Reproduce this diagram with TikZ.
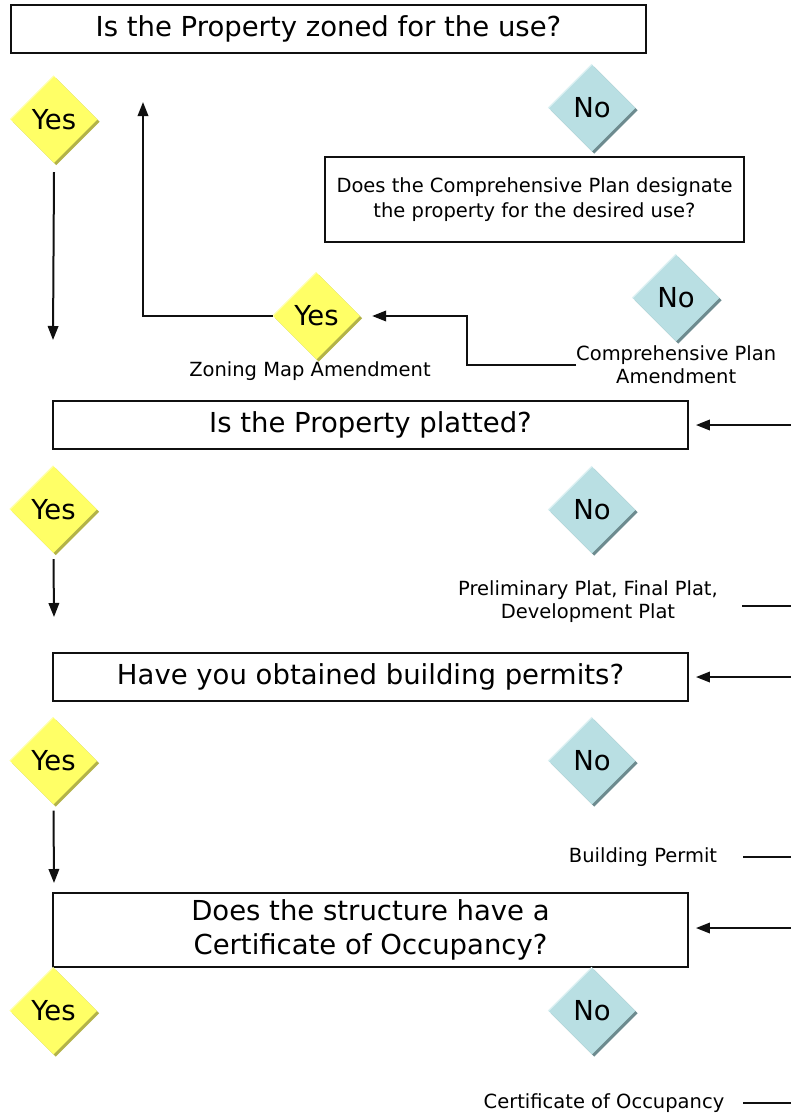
\documentclass[tikz,border=0pt]{standalone}
\usepackage{fontspec}
\setmainfont{DejaVu Sans}
\usetikzlibrary{shapes.geometric,arrows.meta}
\definecolor{yfill}{HTML}{FFFF66}
\definecolor{yshade}{HTML}{B3B348}
\definecolor{ylight}{HTML}{FFFFAA}
\definecolor{bfill}{HTML}{B9DFE3}
\definecolor{bshade}{HTML}{6D8B8F}
\definecolor{blight}{HTML}{DDF1F3}
\definecolor{ink}{HTML}{101010}
\begin{document}
\begin{tikzpicture}[x=1pt,y=-1pt,
  box/.style={draw=ink,line width=1.9pt,rectangle,inner sep=0pt,align=center,font=\fontsize{27.5}{34}\selectfont},
  dia/.style={diamond,aspect=1,minimum width=87pt,minimum height=87pt,inner sep=0pt,font=\fontsize{27.5}{32}\selectfont},
  yesd/.style={dia,fill=yfill,preaction={fill=yshade,transform canvas={shift={(2.2pt,-2.2pt)}}}},
  nod/.style={dia,fill=bfill,preaction={fill=bshade,transform canvas={shift={(2.2pt,-2.2pt)}}}},
  lbl/.style={align=center,inner sep=0pt,font=\fontsize{19.5}{23}\selectfont},
  arr/.style={draw=ink,line width=2pt,-{Triangle[length=14pt,width=10.5pt]}},
  ln/.style={draw=ink,line width=2pt}]
\useasboundingbox (0,0) rectangle (791,1116);

% boxes
\node[box,minimum width=635pt,minimum height=48pt] (b1) at (328.5,29) {Is the Property zoned for the use?};
\node[box,font=\fontsize{19.5}{25}\selectfont,minimum width=419pt,minimum height=85pt] (b2) at (534.5,199.5) {Does the Comprehensive Plan designate\\the property for the desired use?};
\node[box,minimum width=635pt,minimum height=48pt] (b3) at (370.5,425) {Is the Property platted?};
\node[box,minimum width=635pt,minimum height=48pt] (b4) at (370.5,677) {Have you obtained building permits?};
\node[box,minimum width=635pt,minimum height=74pt] (b5) at (370.5,930) {Does the structure have a\\Certificate of Occupancy?};

% diamonds
\node[yesd] (y1) at (54,119.5) {Yes};
\node[nod]  (n1) at (592,108) {No};
\node[yesd] (y2) at (316.5,316) {Yes};
\node[nod]  (n2) at (676,298) {No};
\node[yesd] (y3) at (53.5,509.5) {Yes};
\node[nod]  (n3) at (592,510) {No};
\node[yesd] (y4) at (53.5,761) {Yes};
\node[nod]  (n4) at (592,761) {No};
\node[yesd] (y5) at (53.5,1011) {Yes};
\node[nod]  (n5) at (592,1011) {No};

% highlights on upper-left edges
\foreach \d in {y1,y2,y3,y4,y5}{\draw[ylight,line width=1.2pt] (\d.west) -- (\d.north);}
\foreach \d in {n1,n2,n3,n4,n5}{\draw[blight,line width=1.2pt] (\d.west) -- (\d.north);}

% labels
\node[lbl] (zma) at (310,371) {Zoning Map Amendment};
\node[lbl,anchor=west] (cpa) at (576,365) {Comprehensive Plan\\Amendment};
\node[lbl] (ppl) at (588,602) {Preliminary Plat, Final Plat,\\Development Plat};
\node[lbl] (bpm) at (643,857) {Building Permit};
\node[lbl] (coo) at (604,1103) {Certificate of Occupancy};

% coordinates for free ends
\coordinate (a1) at (53,340);
\coordinate (u1) at (143,102);
\coordinate (k1) at (467,316);
\coordinate (a3) at (54,617);
\coordinate (a4) at (54,883);
\coordinate (e3) at (791,425);
\coordinate (e4) at (791,677);
\coordinate (e5) at (791,928);
\coordinate (p1) at (742,606);
\coordinate (p2) at (791,606);
\coordinate (q1) at (743,857);
\coordinate (q2) at (791,857);
\coordinate (r1) at (743,1103);
\coordinate (r2) at (791,1103);

% connectors
\draw[arr] ([yshift=-9pt]y1.south) -- (a1);
\draw[arr] (y2.west) -| (u1);
\draw[arr] (cpa.west) -| (k1) -- ([xshift=12pt]y2.east);
\draw[arr] ([yshift=-6pt]y3.south) -- (a3);
\draw[arr] ([yshift=-6pt]y4.south) -- (a4);
\draw[arr] (e3) -- ([xshift=7pt]b3.east);
\draw[arr] (e4) -- ([xshift=7pt]b4.east);
\draw[arr] (e5) -- ([xshift=7pt]b5.east |- e5);
\draw[ln] (p1) -- (p2);
\draw[ln] (q1) -- (q2);
\draw[ln] (r1) -- (r2);
\end{tikzpicture}
\end{document}
